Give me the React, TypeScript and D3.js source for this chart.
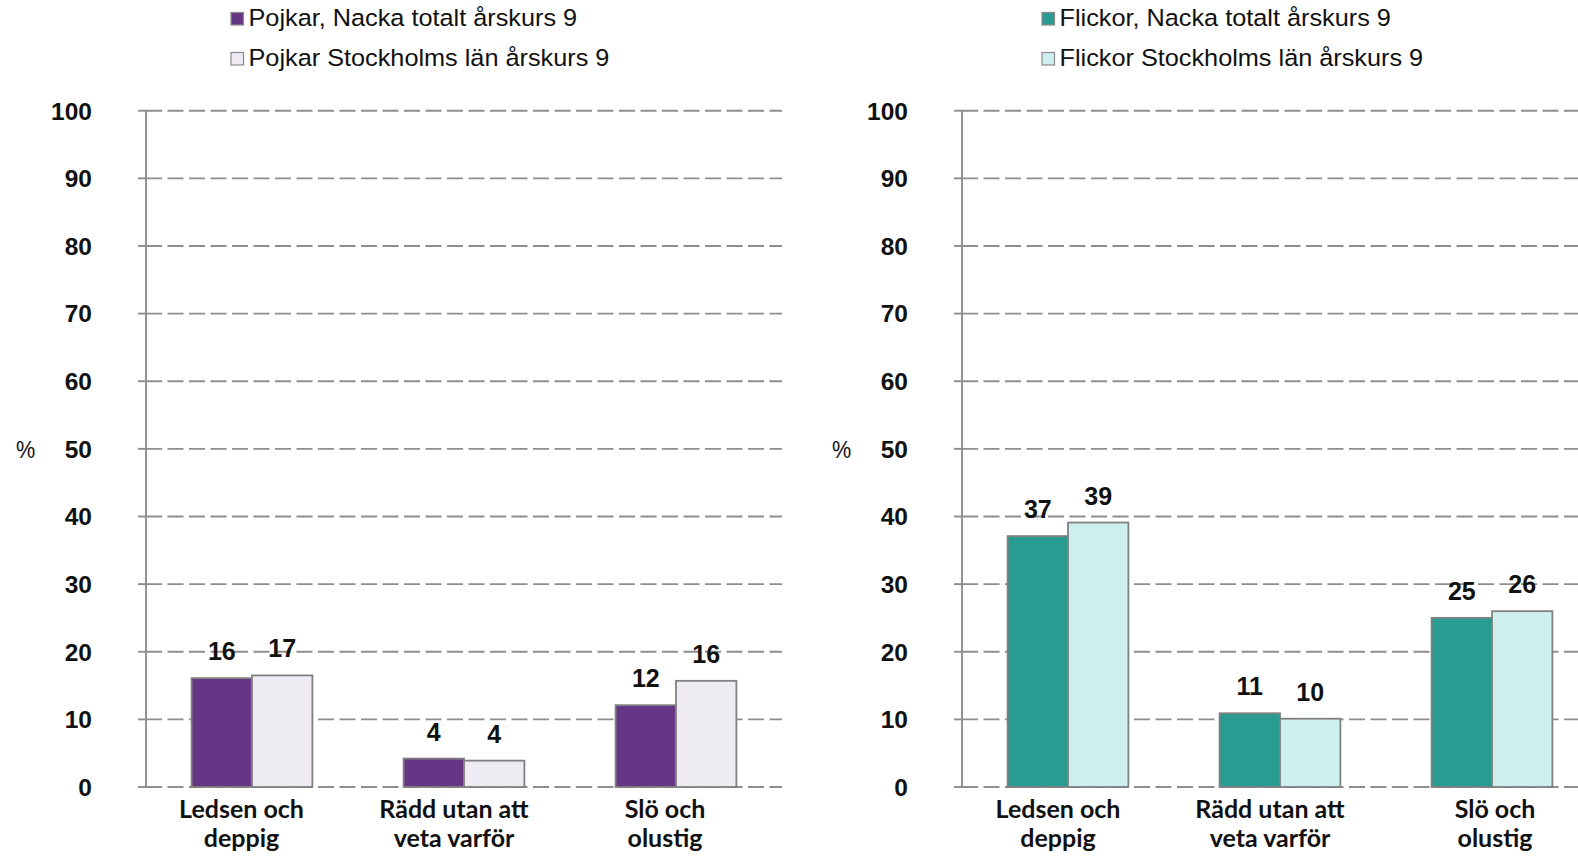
import React from "react";
import * as d3 from "d3";

const categories = [["Ledsen och", "deppig"], ["Rädd utan att", "veta varför"], ["Slö och", "olustig"]];
const yTicks = [0, 10, 20, 30, 40, 50, 60, 70, 80, 90, 100];

const boysNacka = [16.1, 4.2, 12.1];
const boysSthlm = [16.5, 3.9, 15.7];
const girlsNacka = [37.1, 10.9, 25.0];
const girlsSthlm = [39.1, 10.1, 26.0];

const boysLabels = ["Pojkar, Nacka totalt årskurs 9", "Pojkar Stockholms län årskurs 9"];
const girlsLabels = ["Flickor, Nacka totalt årskurs 9", "Flickor Stockholms län årskurs 9"];

const W = 1578;
const H = 856;
const yTop = 110.7;
const yBottom = 787;
const bandW = 212;
const ARIAL = "'Liberation Sans', Arial, sans-serif";

function Panel({ x0, s1, s2, c1, c2, labels, legendX, labelOffsets }: any) {
  const y = d3.scaleLinear().domain([0, 100]).range([yBottom, yTop]);
  const xb = d3.scaleBand().domain(["0", "1", "2"]).range([x0, x0 + bandW * 3]).paddingInner(0).paddingOuter(0);
  const barW = 60.4;
  const gridRight = Math.min(x0 + bandW * 3, W);
  const series = [
    { vals: s1, color: c1 },
    { vals: s2, color: c2 },
  ];
  return (
    <g>
      {/* legend */}
      {labels.map((l: string, i: number) => (
        <g key={l}>
          <rect x={legendX} y={12.5 + i * 40} width={12.5} height={12.5} fill={series[i].color} stroke="#8a8a8a" strokeWidth={1.2} />
          <g transform={`translate(${legendX + 17.5},${26 + i * 40}) scale(1.085,1)`}>
            <text x={0} y={0} fontFamily={ARIAL} fontSize={23.3} fill="#111">{l}</text>
          </g>
        </g>
      ))}
      {/* grid */}
      {yTicks.map((t) => (
        <g key={t}>
          <line x1={x0} x2={gridRight} y1={y(t)} y2={y(t)} stroke="#8e8e8e" strokeWidth={1.9} strokeDasharray="16,5.5" />
          <line x1={x0 - 8} x2={x0} y1={y(t)} y2={y(t)} stroke="#8e8e8e" strokeWidth={1.9} />
          <text x={x0 - 54} y={y(t)} dy="0.36em" textAnchor="end" fontFamily={ARIAL} fontWeight="bold" fontSize={24.5} fill="#111">{t}</text>
        </g>
      ))}
      <line x1={x0} x2={x0} y1={yTop} y2={yBottom} stroke="#8e8e8e" strokeWidth={1.9} />
      <g transform={`translate(${x0 - 130},${y(50)}) scale(0.9,1)`}>
        <text x={0} y={0} dy="0.36em" textAnchor="start" fontFamily={ARIAL} fontSize={24} fill="#111">%</text>
      </g>
      {/* bars */}
      {categories.map((c, i) => {
        const cx = (xb(String(i)) as number) + bandW / 2;
        const lx = cx + labelOffsets[i];
        return (
          <g key={i}>
            {series.map((s, j) => {
              const bx = cx - barW + j * barW;
              const v = s.vals[i];
              return (
                <g key={j}>
                  <rect x={bx} y={y(v)} width={barW} height={yBottom - y(v)} fill={s.color} stroke="#808080" strokeWidth={1.8} />
                  <text x={bx + barW / 2} y={y(v) - 27} dy="0.36em" textAnchor="middle" fontFamily={ARIAL} fontWeight="bold" fontSize={25} fill="#111">{Math.round(v)}</text>
                </g>
              );
            })}
            <text x={lx} y={818} textAnchor="middle" fontFamily="Lato, 'Open Sans', sans-serif" fontWeight="bold" fontSize={25} fill="#111">
              <tspan x={lx} dy="0">{c[0]}</tspan>
              <tspan x={lx} dy="28.5">{c[1]}</tspan>
            </text>
          </g>
        );
      })}
    </g>
  );
}

export default function App() {
  return (
    <svg width={W} height={H} style={{ position: "absolute", left: 0, top: 0, background: "#fff" }}>
      <rect width={W} height={H} fill="#fff" />
      <Panel x0={146} s1={boysNacka} s2={boysSthlm} c1="#663686" c2="#EEEBF3" labels={boysLabels} legendX={231} labelOffsets={[-10.5, -10, -11]} />
      <Panel x0={962} s1={girlsNacka} s2={girlsSthlm} c1="#299C91" c2="#CDF0EE" labels={girlsLabels} legendX={1042} labelOffsets={[-10, -10, 3]} />
    </svg>
  );
}
